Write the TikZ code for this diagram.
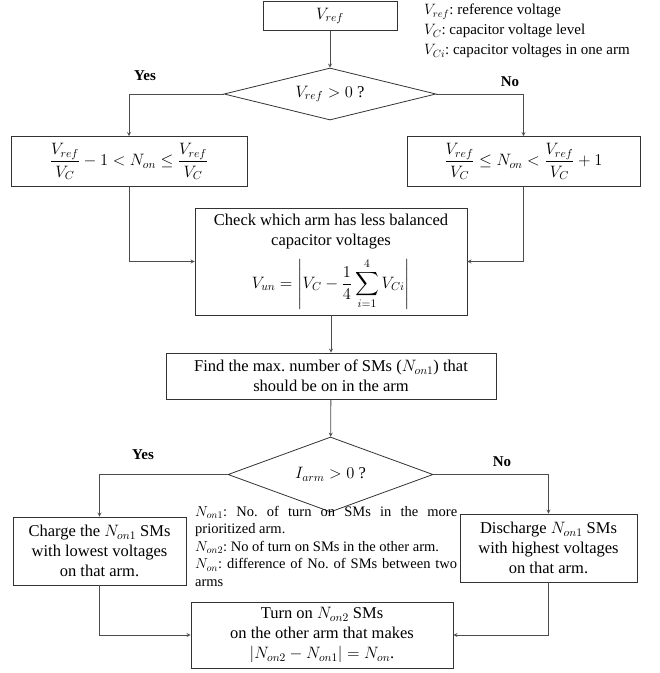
\documentclass[tikz,border=0pt]{standalone}
\usepackage{fix-cm}
\usepackage{amsmath,amssymb}
\usepackage{fontspec}
\setmainfont{Liberation Serif}
\usepackage{tikz}
\usetikzlibrary{arrows, positioning, shapes.geometric}
\hyphenpenalty=10000
\tolerance=9999
\frenchspacing

\begin{document}
\begin{tikzpicture}[
  x=1pt, y=-1pt,
  box/.style={
    draw=black!80,
    line width=0.8pt,
    align=center,
    inner sep=2pt,
    font=\fontsize{16.5}{20}\selectfont
  },
  decision/.style={
    diamond,
    draw=black!80,
    line width=0.8pt,
    aspect=4,
    inner sep=0pt,
    font=\fontsize{16.5}{20}\selectfont
  },
  answer/.style={
    font=\fontsize{15}{18}\selectfont\bfseries
  },
  arrow/.style={
    -stealth,
    line width=0.8pt,
    draw=black!70
  }
]
\useasboundingbox (0,0) rectangle (660,673);

% Reference voltage and the sign test
\node[box, minimum width=134pt, minimum height=29pt] (vref) at (330,16) {$V_{ref}$};
\node[anchor=north west, align=left, inner sep=0pt, font=\fontsize{15}{20}\selectfont] (legend) at (424,4) {$V_{ref}$: reference voltage\\ $V_C$: capacitor voltage level\\ $V_{Ci}$: capacitor voltages in one arm};
\node[decision, minimum width=212pt, minimum height=52pt] (dec1) at (330,94) {$V_{ref}>0$ ?};
\node[answer] (yes1) at (145,76) {Yes};
\node[answer] (no1) at (510,82) {No};

% Number of SMs for each sign
\node[box, minimum width=236pt, minimum height=50pt] (left1) at (129,161.5) {$\dfrac{V_{ref}}{V_C}-1<N_{on}\leq\dfrac{V_{ref}}{V_C}$};
\node[box, minimum width=233pt, minimum height=50pt] (right1) at (523.5,161.5) {$\dfrac{V_{ref}}{V_C}\leq N_{on}<\dfrac{V_{ref}}{V_C}+1$};

% Arm selection
\node[box, minimum width=272pt, minimum height=107pt] (check) at (331,261.5) {Check which arm has less balanced\\ capacitor voltages\\[9pt] $\displaystyle V_{un}=\left|V_C-\frac{1}{4}\sum_{i=1}^{4}V_{Ci}\right|$};
\node[box, minimum width=330pt, minimum height=46pt] (findmax) at (331,376) {Find the max. number of SMs ($N_{on1}$) that\\ should be on in the arm};

% Current direction test
\node[decision, minimum width=205pt, minimum height=75pt] (dec2) at (330.5,474.5) {$I_{arm}>0$ ?};
\node[answer] (yes2) at (143,455) {Yes};
\node[answer] (no2) at (502,462) {No};

% Charge / discharge and final step
\node[box, minimum width=173pt, minimum height=68pt] (charge) at (99.5,551) {Charge the $N_{on1}$ SMs\\ with lowest voltages\\ on that arm.};
\node[box, minimum width=177pt, minimum height=68pt] (discharge) at (548.5,548) {Discharge $N_{on1}$ SMs\\ with highest voltages\\ on that arm.};
\node[anchor=north west, text width=262pt, align=justify, inner sep=0pt, font=\fontsize{14.5}{17.5}\selectfont] (notes) at (195,506) {$N_{on1}$: No. of turn on SMs in the more prioritized arm.\\ $N_{on2}$: No of turn on SMs in the other arm.\\ $N_{on}$: difference of No. of SMs between two arms};
\node[box, minimum width=262pt, minimum height=66pt] (turnon) at (322,635) {Turn on $N_{on2}$ SMs\\ on the other arm that makes\\ $|N_{on2}-N_{on1}|=N_{on}$.};

% Connections
\draw[arrow] (vref) -- (dec1);
\draw[arrow] (dec1.west) -| (left1.north);
\draw[arrow] (dec1.east) -| (right1.north);
\draw[arrow] (left1.south) |- (check.west);
\draw[arrow] (right1.south) |- (check.east);
\draw[arrow] (check) -- (findmax);
\draw[arrow] (findmax) -- (dec2);
\draw[arrow] (dec2.west) -| (charge.north);
\draw[arrow] (dec2.east) -| (discharge.north);
\draw[arrow] (charge.south) |- (turnon.west);
\draw[arrow] (discharge.south) |- (turnon.east);
\end{tikzpicture}
\end{document}
